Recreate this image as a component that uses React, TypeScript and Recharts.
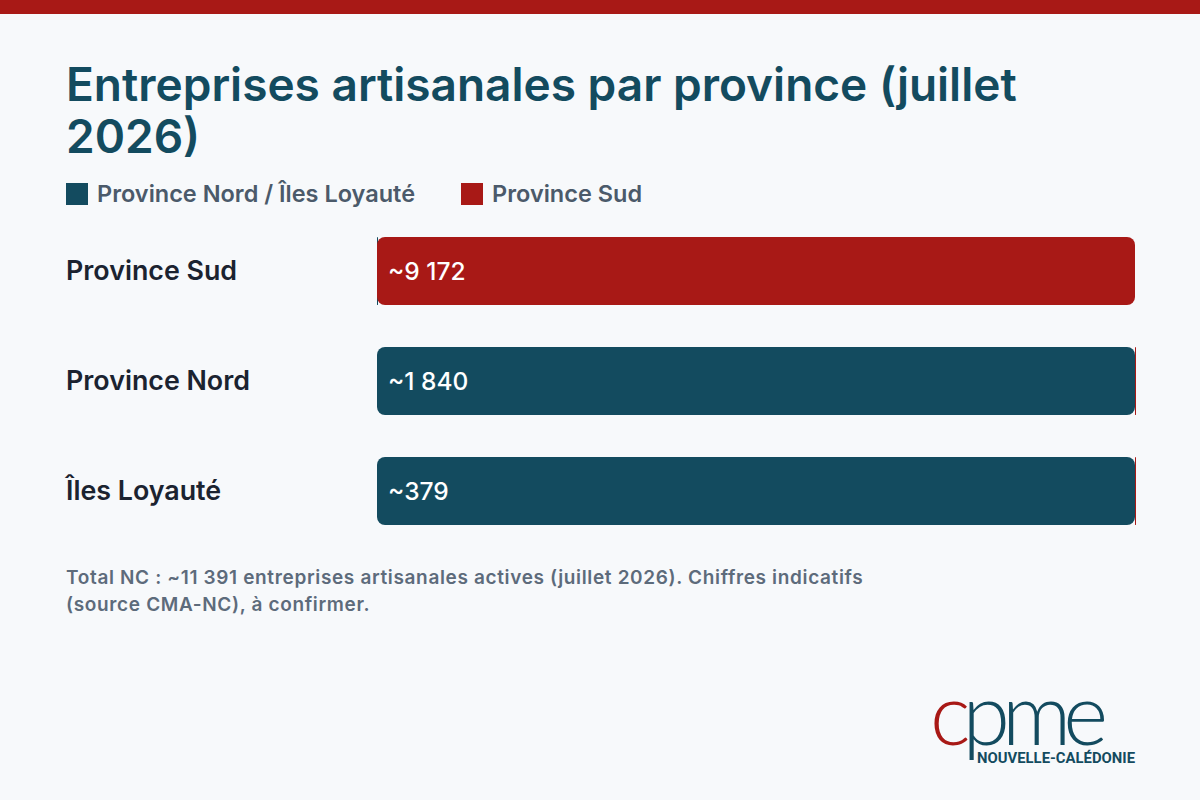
import { Bar, BarChart, LabelList, XAxis, YAxis } from 'recharts'

const TEAL = '#134b5f'
const RED = '#a81916'
const BG = '#f7f9fb'

const PROVINCES = ['Province Sud', 'Province Nord', 'Îles Loyauté']
const NORD_ILES = [0, 1840, 379]
const SUD = [9172, 0, 0]

const data = PROVINCES.map((name, i) => ({ name, nord: NORD_ILES[i], sud: SUD[i] }))

function fmt(v: number): string {
  return String(v).replace(/\B(?=(\d{3})+(?!\d))/g, ' ')
}

function CategoryTick(props: any) {
  const { y, payload } = props
  return (
    <text x={66} y={y} dy={9} textAnchor="start" fill="#1b2330" fontSize={26.8} fontWeight={600} fontFamily="Inter">
      {payload.value}
    </text>
  )
}

function makeLabel(key: 'nord' | 'sud') {
  return function BarLabel(props: any) {
    const { x, y, height, index } = props
    const v = data[index]?.[key]
    if (!v) return null
    return (
      <text x={x + 11} y={y + height / 2} dy={9} fill="#ffffff" fontSize={24.5} fontWeight={500} fontFamily="Inter">
        ~{fmt(v)}
      </text>
    )
  }
}

function LegendItem({ color, label }: { color: string; label: string }) {
  return (
    <div style={{ display: 'flex', alignItems: 'center', gap: 9 }}>
      <div style={{ width: 22, height: 22, background: color }} />
      <span>{label}</span>
    </div>
  )
}

export default function App() {
  return (
    <div style={{ position: 'fixed', left: 0, top: 0, width: 1200, height: 800, background: BG, fontFamily: 'Inter', overflow: 'hidden' }}>
      <div style={{ height: 14, background: RED }} />
      <div style={{ position: 'absolute', left: 66, top: 58, width: 1000, fontSize: 46, fontWeight: 600, lineHeight: '52px', color: TEAL }}>
        Entreprises artisanales par province (juillet 2026)
      </div>
      <div style={{ position: 'absolute', left: 66, top: 179, display: 'flex', gap: 46, fontSize: 23.5, fontWeight: 600, color: '#4b5a6a' }}>
        <LegendItem color={TEAL} label="Province Nord / Îles Loyauté" />
        <LegendItem color={RED} label="Province Sud" />
      </div>
      <div style={{ position: 'absolute', left: 0, top: 216 }}>
        <BarChart width={1200} height={330} data={data} layout="vertical" stackOffset="expand" margin={{ top: 0, right: 65, bottom: 0, left: 0 }}>
          <XAxis type="number" domain={[0, 1]} hide />
          <YAxis type="category" dataKey="name" width={377} axisLine={false} tickLine={false} tick={<CategoryTick />} />
          <Bar dataKey="nord" stackId="a" fill={TEAL} barSize={68} radius={8} minPointSize={1} isAnimationActive={false}>
            <LabelList dataKey="nord" content={makeLabel('nord')} />
          </Bar>
          <Bar dataKey="sud" stackId="a" fill={RED} barSize={68} radius={8} minPointSize={1} isAnimationActive={false}>
            <LabelList dataKey="sud" content={makeLabel('sud')} />
          </Bar>
        </BarChart>
      </div>
      <div style={{ position: 'absolute', left: 66, top: 564, width: 840, fontSize: 19, letterSpacing: 0.65, fontWeight: 600, lineHeight: '27px', color: '#5d6b7b' }}>
        Total NC : ~11 391 entreprises artisanales actives (juillet 2026). Chiffres indicatifs (source CMA-NC), à confirmer.
      </div>
      <svg style={{ position: 'absolute', left: 920, top: 640 }} width={240} height={140}>
        <text x={10} y={105} fontFamily="Lato" fontWeight={300} fontSize={86} letterSpacing={-8}>
          <tspan fill={RED}>c</tspan>
          <tspan fill={TEAL}>pme</tspan>
        </text>
        <text x={57} y={123} fontFamily="Roboto" fontWeight={700} fontSize={14} fill={TEAL} textLength={158} lengthAdjust="spacingAndGlyphs">
          NOUVELLE-CALÉDONIE
        </text>
      </svg>
    </div>
  )
}
